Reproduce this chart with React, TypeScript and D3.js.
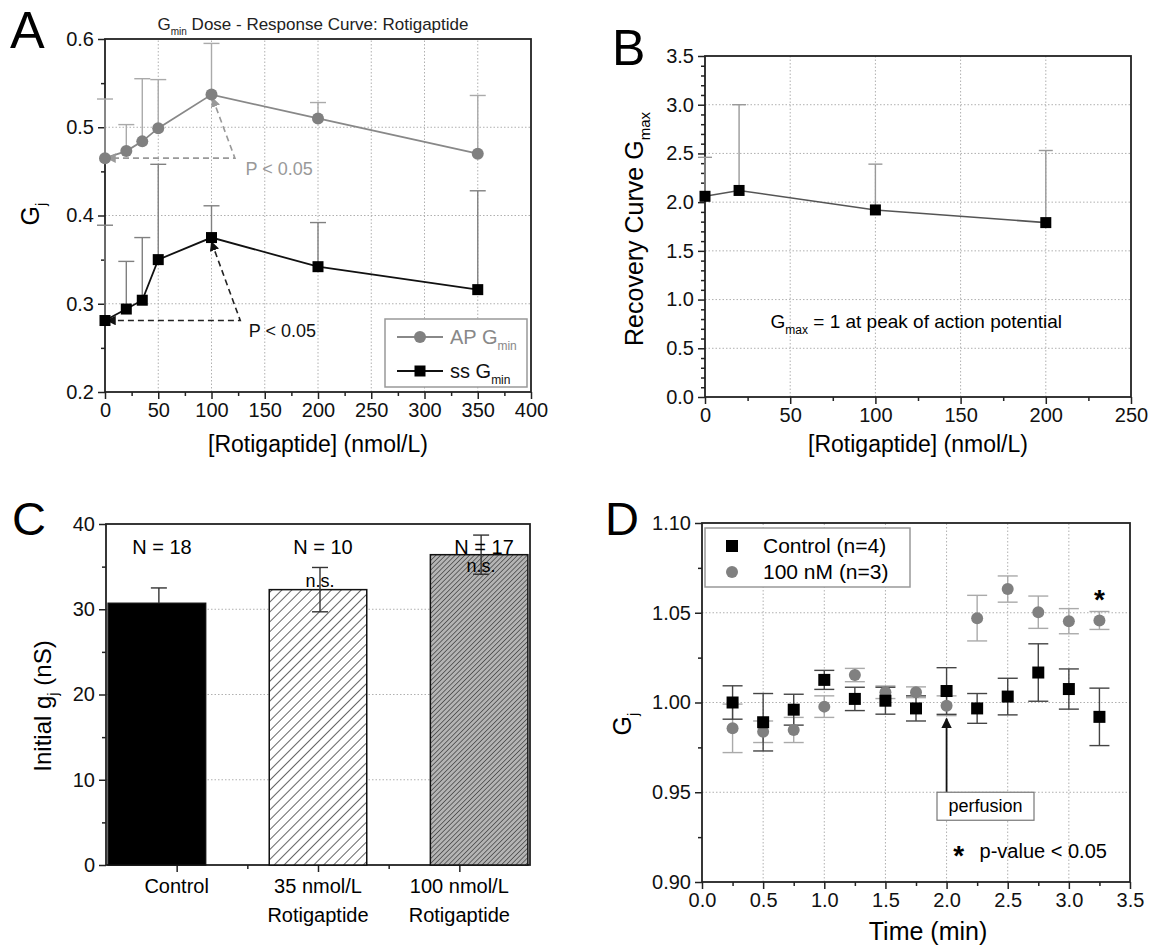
import React from "react";
import * as d3 from "d3";

const FONT = "'Liberation Sans', Arial, Helvetica, sans-serif";

// A: Gmin dose-response (upper error only)
const doseA = [0, 20, 35, 50, 100, 200, 350];
const apGmin = [0.465, 0.473, 0.484, 0.499, 0.537, 0.51, 0.47];
const apGminErr = [0.067, 0.03, 0.071, 0.055, 0.058, 0.018, 0.066];
const ssGmin = [0.281, 0.294, 0.304, 0.35, 0.375, 0.342, 0.316];
const ssGminErr = [0.108, 0.054, 0.071, 0.108, 0.036, 0.05, 0.112];

// B: recovery curve Gmax
const doseB = [0, 20, 100, 200];
const gmax = [2.06, 2.12, 1.92, 1.79];
const gmaxErr = [0.4, 0.88, 0.47, 0.74];

// C: initial gj bars
const groupsC = [["Control"], ["35 nmol/L", "Rotigaptide"], ["100 nmol/L", "Rotigaptide"]];
const gjMean = [30.7, 32.3, 36.4];
const gjErrUp = [1.8, 2.6, 2.3];
const gjErrDown = [0, 2.6, 2.3];
const gjN = [18, 10, 17];
const gjNote = ["", "n.s.", "n.s."];
const gjNoteY = [0, 32.6, 34.4];
const barPos = [0.86, 2.0, 3.14];
const tickPosC = [1, 2, 3];

// D: time course
const timeD = [0.25, 0.5, 0.75, 1.0, 1.25, 1.5, 1.75, 2.0, 2.25, 2.5, 2.75, 3.0, 3.25];
const ctrlGj = [1.0, 0.989, 0.996, 1.0126, 1.002, 1.001, 0.9967, 1.0064, 0.9967, 1.0033, 1.0167, 1.0075, 0.992];
const ctrlErr = [0.0093, 0.016, 0.0086, 0.0053, 0.0065, 0.0075, 0.007, 0.013, 0.0083, 0.0102, 0.016, 0.0112, 0.016];
const drugGj = [0.9856, 0.9837, 0.9847, 0.9977, 1.0153, 1.0057, 1.0057, 0.9982, 1.047, 1.0632, 1.0503, 1.0453, 1.0457];
const drugErr = [0.0135, 0.006, 0.007, 0.006, 0.0037, 0.0035, 0.003, 0.0055, 0.0127, 0.0073, 0.009, 0.007, 0.005];

const range = (a: number, b: number, s: number) => d3.range(a, b + s / 2, s).map((v) => +v.toFixed(4));

function drawAxis(el: SVGGElement | null, axis: any, labels = true) {
  if (!el) return;
  const g = d3.select(el);
  g.call(axis);
  g.select(".domain").remove();
  g.attr("font-size", 20).attr("font-family", FONT);
  g.selectAll("line").attr("stroke", "#222").attr("stroke-width", 1.5);
  g.selectAll("text").attr("fill", "#111");
  if (!labels) g.selectAll("text").remove();
}

function Axes({ x, y, xMajor, xMinor, yMajor, yMinor, xFmt, yFmt, xGrid, yGrid, xLabels = true }: any) {
  const [x0, x1] = x.range();
  const [yb, yt] = y.range();
  return (
    <g>
      {xGrid.map((v: number) => (
        <line key={"gx" + v} x1={x(v)} x2={x(v)} y1={yb} y2={yt} stroke="#b0b0b0" strokeDasharray="1.5,2" />
      ))}
      {yGrid.map((v: number) => (
        <line key={"gy" + v} y1={y(v)} y2={y(v)} x1={x0} x2={x1} stroke="#b0b0b0" strokeDasharray="1.5,2" />
      ))}
      <g transform={`translate(0,${yb})`} ref={(el) => { drawAxis(el, d3.axisBottom(x).tickValues(xMajor).tickFormat(xFmt).tickSize(7).tickPadding(4), xLabels); }} />
      <g transform={`translate(0,${yb})`} ref={(el) => { drawAxis(el, d3.axisBottom(x).tickValues(xMinor).tickSize(4), false); }} />
      <g transform={`translate(${x0},0)`} ref={(el) => { drawAxis(el, d3.axisLeft(y).tickValues(yMajor).tickFormat(yFmt).tickSize(7).tickPadding(4)); }} />
      <g transform={`translate(${x0},0)`} ref={(el) => { drawAxis(el, d3.axisLeft(y).tickValues(yMinor).tickSize(4), false); }} />
      <rect x={x0} y={yt} width={x1 - x0} height={yb - yt} fill="none" stroke="#222" strokeWidth={1.8} />
    </g>
  );
}

function Square({ cx, cy, s = 11, fill = "#000" }: any) {
  return <rect x={cx - s / 2} y={cy - s / 2} width={s} height={s} fill={fill} />;
}

function ErrBar({ x, yTop, yBot, w, color, capTop = true, capBot = true }: any) {
  return (
    <g stroke={color} strokeWidth={1.4}>
      <line x1={x} x2={x} y1={yTop} y2={yBot} />
      {capTop && <line x1={x - w} x2={x + w} y1={yTop} y2={yTop} />}
      {capBot && <line x1={x - w} x2={x + w} y1={yBot} y2={yBot} />}
    </g>
  );
}

function PanelA() {
  const x = d3.scaleLinear().domain([0, 400]).range([105, 531]);
  const y = d3.scaleLinear().domain([0.2, 0.6]).range([392, 39]);
  const line = d3.line<number>().x((_, i) => x(doseA[i]));
  const apPath = line.y((d) => y(d))(apGmin);
  const ssPath = line.y((d) => y(d))(ssGmin);
  const dash = d3.line<[number, number]>().x((d) => x(d[0])).y((d) => y(d[1]));
  return (
    <g>
      <text x={10} y={48} fontSize={52}>A</text>
      <text x={313} y={30} fontSize={17} textAnchor="middle" fill="#222">
        G<tspan dy={5} fontSize={10}>min</tspan><tspan dy={-5}> Dose - Response Curve: Rotigaptide</tspan>
      </text>
      <Axes x={x} y={y} xMajor={range(0, 400, 50)} xMinor={range(25, 375, 50)} yMajor={range(0.2, 0.6, 0.1)}
        yMinor={range(0.25, 0.55, 0.1)} xFmt={d3.format("d")} yFmt={d3.format(".1f")}
        xGrid={range(50, 350, 50)} yGrid={[0.3, 0.4, 0.5]} />
      {doseA.map((d, i) => (
        <ErrBar key={"ea" + i} x={x(d)} yTop={y(apGmin[i] + apGminErr[i])} yBot={y(apGmin[i])} w={8} color="#aaa" capBot={false} />
      ))}
      {doseA.map((d, i) => (
        <ErrBar key={"es" + i} x={x(d)} yTop={y(ssGmin[i] + ssGminErr[i])} yBot={y(ssGmin[i])} w={8} color="#808080" capBot={false} />
      ))}
      <path d={apPath || ""} fill="none" stroke="#888" strokeWidth={1.8} />
      <path d={ssPath || ""} fill="none" stroke="#111" strokeWidth={1.8} />
      <path d={dash([[101, 0.533], [122, 0.465], [2, 0.465]]) || ""} fill="none" stroke="#999" strokeWidth={1.6}
        strokeDasharray="6,4" markerStart="url(#arrGray)" markerEnd="url(#arrGray)" />
      <path d={dash([[100, 0.37], [127, 0.281], [2, 0.281]]) || ""} fill="none" stroke="#222" strokeWidth={1.6}
        strokeDasharray="6,4" markerStart="url(#arrBlack)" markerEnd="url(#arrBlack)" />
      {doseA.map((d, i) => <circle key={"ca" + i} cx={x(d)} cy={y(apGmin[i])} r={6} fill="#808080" />)}
      {doseA.map((d, i) => <Square key={"sa" + i} cx={x(d)} cy={y(ssGmin[i])} s={11} />)}
      <text x={x(132)} y={y(0.446)} fontSize={18} fill="#999">P &lt; 0.05</text>
      <text x={x(135)} y={y(0.262)} fontSize={18} fill="#111">P &lt; 0.05</text>
      <g>
        <rect x={385} y={319} width={142} height={68} fill="#fff" stroke="#999" strokeWidth={1.5} />
        <line x1={397} x2={443} y1={337} y2={337} stroke="#888" strokeWidth={1.8} />
        <circle cx={420} cy={337} r={6} fill="#808080" />
        <text x={450} y={344} fontSize={20} fill="#888">AP G<tspan dy={6} fontSize={12}>min</tspan></text>
        <line x1={397} x2={443} y1={371} y2={371} stroke="#111" strokeWidth={1.8} />
        <Square cx={420} cy={371} s={11} />
        <text x={450} y={378} fontSize={20} fill="#111">ss G<tspan dy={6} fontSize={12}>min</tspan></text>
      </g>
      <text transform="translate(39,214) rotate(-90)" fontSize={25} textAnchor="middle">
        G<tspan dy={7} fontSize={15}>j</tspan>
      </text>
      <text x={318} y={452} fontSize={23} textAnchor="middle">[Rotigaptide] (nmol/L)</text>
    </g>
  );
}

function PanelB() {
  const x = d3.scaleLinear().domain([0, 250]).range([705, 1131]);
  const y = d3.scaleLinear().domain([0, 3.5]).range([397, 56]);
  const minorY = range(0, 3.5, 0.1).filter((v) => Math.abs(v * 2 - Math.round(v * 2)) > 1e-6);
  const path = d3.line<number>().x((_, i) => x(doseB[i])).y((d) => y(d))(gmax);
  return (
    <g>
      <text x={612} y={65} fontSize={50}>B</text>
      <Axes x={x} y={y} xMajor={range(0, 250, 50)} xMinor={range(25, 225, 50)} yMajor={range(0, 3.5, 0.5)}
        yMinor={minorY} xFmt={d3.format("d")} yFmt={d3.format(".1f")}
        xGrid={range(50, 200, 50)} yGrid={range(0.5, 3.0, 0.5)} />
      {doseB.map((d, i) => (
        <ErrBar key={"eb" + i} x={x(d)} yTop={y(gmax[i] + gmaxErr[i])} yBot={y(gmax[i])} w={7} color="#999" capBot={false} />
      ))}
      <path d={path || ""} fill="none" stroke="#555" strokeWidth={1.6} />
      {doseB.map((d, i) => <Square key={"sb" + i} cx={x(d)} cy={y(gmax[i])} s={11} />)}
      <text x={x(124)} y={y(0.71)} fontSize={19} textAnchor="middle">
        G<tspan dy={6} fontSize={12}>max</tspan><tspan dy={-6}> = 1 at peak of action potential</tspan>
      </text>
      <text transform="translate(643,229) rotate(-90)" fontSize={25} textAnchor="middle">
        Recovery Curve G<tspan dy={7} fontSize={15}>max</tspan>
      </text>
      <text x={918} y={452} fontSize={23} textAnchor="middle">[Rotigaptide] (nmol/L)</text>
    </g>
  );
}

function PanelC() {
  const x = d3.scaleLinear().domain([0.5, 3.5]).range([106, 530]);
  const y = d3.scaleLinear().domain([0, 40]).range([865, 524]);
  const bw = x(0.69) - x(0);
  const fills = ["#000", "url(#hatchWide)", "url(#hatchDense)"];
  return (
    <g>
      <text x={12} y={535} fontSize={47}>C</text>
      <Axes x={x} y={y} xMajor={tickPosC} xMinor={[1.5, 2.5]} yMajor={range(0, 40, 10)} yMinor={range(5, 35, 10)}
        xFmt={() => ""} yFmt={d3.format("d")} xGrid={[]} yGrid={[10, 20, 30]} xLabels={false} />
      {gjMean.map((m, i) => (
        <rect key={"bar" + i} x={x(barPos[i]) - bw / 2} y={y(m)} width={bw} height={y(0) - y(m)}
          fill={fills[i]} stroke="#111" strokeWidth={1.5} />
      ))}
      {gjMean.map((m, i) => (
        <ErrBar key={"ec" + i} x={x(barPos[i]) + 2} yTop={y(m + gjErrUp[i])} yBot={y(m - gjErrDown[i])} w={8}
          color="#333" capBot={gjErrDown[i] > 0} />
      ))}
      {gjN.map((n, i) => (
        <text key={"n" + i} x={x(barPos[i]) + 5} y={y(36.5)} fontSize={20} textAnchor="middle">N = {n}</text>
      ))}
      {gjNote.map((t, i) => t && (
        <text key={"ns" + i} x={x(barPos[i]) + 2} y={y(gjNoteY[i])} fontSize={18} textAnchor="middle">{t}</text>
      ))}
      {groupsC.map((lines, i) => (
        <text key={"lab" + i} x={x(tickPosC[i])} y={893} fontSize={20} textAnchor="middle">
          {lines.map((l, j) => <tspan key={j} x={x(tickPosC[i])} dy={j === 0 ? 0 : 29}>{l}</tspan>)}
        </text>
      ))}
      <text transform="translate(51,706) rotate(-90)" fontSize={24} textAnchor="middle">
        Initial g<tspan dy={7} fontSize={15}>j</tspan><tspan dy={-7}> (nS)</tspan>
      </text>
    </g>
  );
}

function PanelD() {
  const x = d3.scaleLinear().domain([0, 3.5]).range([702, 1130]);
  const y = d3.scaleLinear().domain([0.9, 1.1]).range([882, 523]);
  return (
    <g>
      <text x={605} y={535} fontSize={47}>D</text>
      <Axes x={x} y={y} xMajor={range(0, 3.5, 0.5)} xMinor={range(0.25, 3.25, 0.5)} yMajor={range(0.9, 1.1, 0.05)}
        yMinor={range(0.925, 1.075, 0.05)} xFmt={d3.format(".1f")} yFmt={d3.format(".2f")}
        xGrid={range(0.5, 3.0, 0.5)} yGrid={[0.95, 1.0, 1.05]} />
      {timeD.map((t, i) => (
        <ErrBar key={"ed" + i} x={x(t)} yTop={y(drugGj[i] + drugErr[i])} yBot={y(drugGj[i] - drugErr[i])} w={10} color="#aaa" />
      ))}
      {timeD.map((t, i) => (
        <ErrBar key={"ek" + i} x={x(t)} yTop={y(ctrlGj[i] + ctrlErr[i])} yBot={y(ctrlGj[i] - ctrlErr[i])} w={10} color="#444" />
      ))}
      {timeD.map((t, i) => <circle key={"cd" + i} cx={x(t)} cy={y(drugGj[i])} r={6} fill="#808080" />)}
      {timeD.map((t, i) => <Square key={"sd" + i} cx={x(t)} cy={y(ctrlGj[i])} s={12} />)}
      <line x1={x(2.0)} x2={x(2.0)} y1={y(0.95)} y2={y(0.991)} stroke="#111" strokeWidth={1.8} markerEnd="url(#arrBlack)" />
      <rect x={937} y={y(0.95)} width={97} height={28} fill="#fff" stroke="#777" strokeWidth={1.2} />
      <text x={985.5} y={y(0.95) + 20} fontSize={18} textAnchor="middle">perfusion</text>
      <text x={x(3.25)} y={y(1.052)} fontSize={28} fontWeight="bold" textAnchor="middle">*</text>
      <text x={x(2.1)} y={y(0.9095)} fontSize={28} fontWeight="bold" textAnchor="middle">*</text>
      <text x={x(2.27)} y={y(0.9134)} fontSize={20}>p-value &lt; 0.05</text>
      <g>
        <rect x={705} y={528} width={205} height={59} fill="#fff" stroke="#999" strokeWidth={1.5} />
        <Square cx={732} cy={546} s={12} />
        <text x={763} y={553} fontSize={21}>Control (n=4)</text>
        <circle cx={732} cy={572} r={6} fill="#808080" />
        <text x={763} y={579} fontSize={21}>100 nM (n=3)</text>
      </g>
      <text transform="translate(631,724) rotate(-90)" fontSize={25} textAnchor="middle">
        G<tspan dy={7} fontSize={15}>j</tspan>
      </text>
      <text x={928} y={940} fontSize={25} textAnchor="middle">Time (min)</text>
    </g>
  );
}

export default function App() {
  return (
    <svg width={1157} height={949} style={{ position: "absolute", left: 0, top: 0, background: "#fff" }}
      fontFamily={FONT}>
      <defs>
        <marker id="arrGray" viewBox="0 0 10 10" refX={9} refY={5} markerWidth={6} markerHeight={6} orient="auto-start-reverse">
          <path d="M0,0 L10,5 L0,10 z" fill="#999" />
        </marker>
        <marker id="arrBlack" viewBox="0 0 10 10" refX={9} refY={5} markerWidth={6} markerHeight={6} orient="auto-start-reverse">
          <path d="M0,0 L10,5 L0,10 z" fill="#111" />
        </marker>
        <pattern id="hatchWide" patternUnits="userSpaceOnUse" width={7} height={7} patternTransform="rotate(45)">
          <rect width={7} height={7} fill="#fff" />
          <line x1={0} y1={0} x2={0} y2={7} stroke="#111" strokeWidth={1.3} />
        </pattern>
        <pattern id="hatchDense" patternUnits="userSpaceOnUse" width={3.4} height={3.4} patternTransform="rotate(45)">
          <rect width={3.4} height={3.4} fill="#b4b4b4" />
          <line x1={0} y1={0} x2={0} y2={3.4} stroke="#333" strokeWidth={1.3} />
        </pattern>
      </defs>
      <PanelA />
      <PanelB />
      <PanelC />
      <PanelD />
    </svg>
  );
}
